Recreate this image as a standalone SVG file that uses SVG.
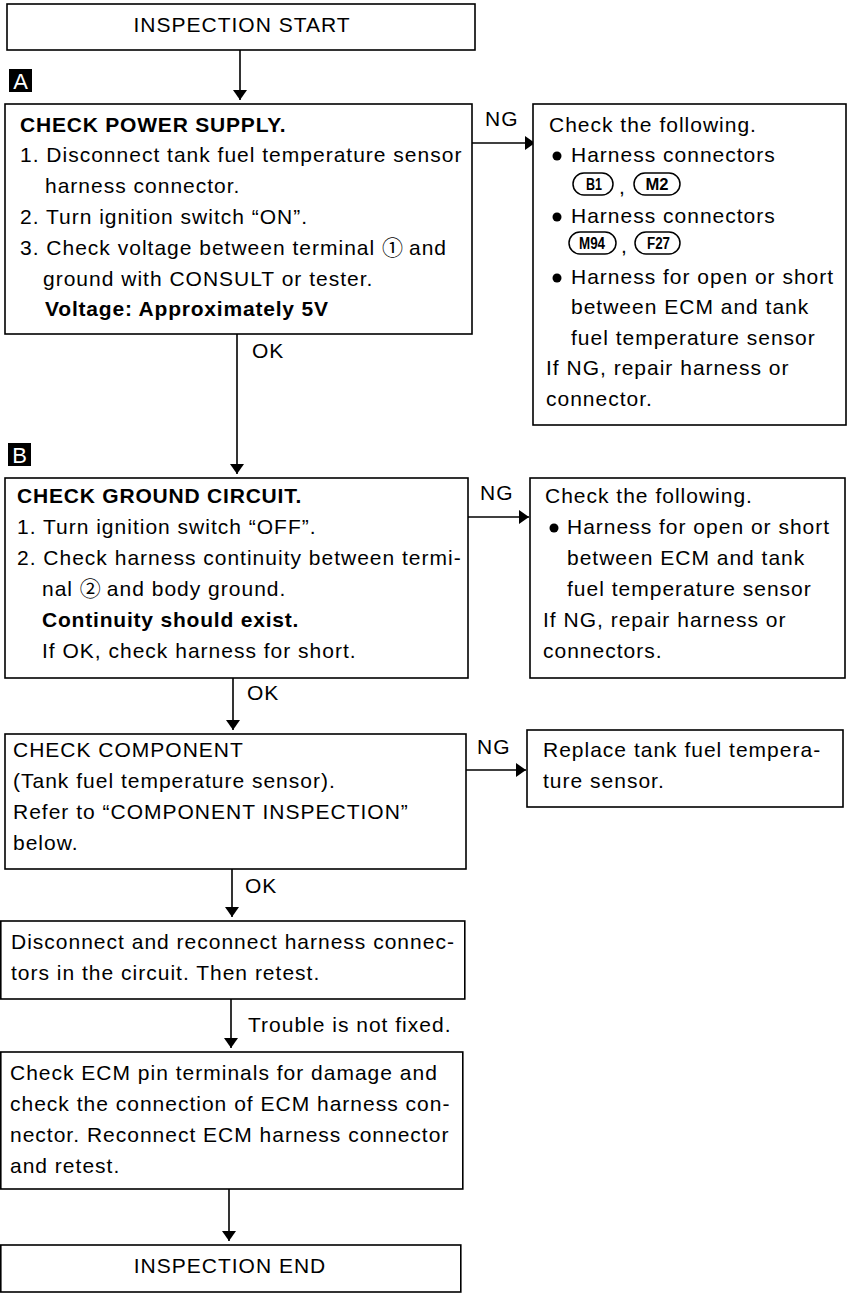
<svg xmlns="http://www.w3.org/2000/svg" width="850" height="1299" viewBox="0 0 850 1299">
<defs>
<marker id="ah" viewBox="0 0 10 14" refX="10" refY="7" markerWidth="10" markerHeight="14" markerUnits="userSpaceOnUse" orient="auto">
<path d="M0,0 L10,7 L0,14 Z" fill="#000"/>
</marker>
</defs>
<style>
.box{fill:#fff;stroke:#000;stroke-width:1.6}
.t{font-family:"Liberation Sans",Arial,sans-serif;font-size:21px;letter-spacing:1px;fill:#000}
.b{font-weight:bold;letter-spacing:0.8px}
.c{text-anchor:middle}
.ln{stroke:#000;stroke-width:1.6;fill:none}
.badge{fill:#fff;stroke:#000;stroke-width:1.5}
.bt{font-family:"Liberation Sans",Arial,sans-serif;font-size:16px;font-weight:bold;fill:#000;text-anchor:middle}
.lab{fill:#000}
.labt{font-family:"Liberation Sans",Arial,sans-serif;font-size:22px;fill:#fff;text-anchor:middle}
.circ{font-family:"Noto Sans CJK JP","DejaVu Sans",sans-serif;font-size:21px;letter-spacing:0}
</style>
<rect width="850" height="1299" fill="#fff"/>

<g id="connectors">
<line class="ln" x1="240" y1="50" x2="240" y2="100" marker-end="url(#ah)"/>
<line class="ln" x1="472" y1="143" x2="535" y2="143" marker-end="url(#ah)"/>
<text class="t" x="485" y="126">NG</text>
<line class="ln" x1="237" y1="334" x2="237" y2="474" marker-end="url(#ah)"/>
<text class="t" x="252" y="358">OK</text>
<line class="ln" x1="468" y1="517" x2="529" y2="517" marker-end="url(#ah)"/>
<text class="t" x="480" y="500">NG</text>
<line class="ln" x1="233" y1="678" x2="233" y2="730" marker-end="url(#ah)"/>
<text class="t" x="247" y="700">OK</text>
<line class="ln" x1="466" y1="770" x2="526" y2="770" marker-end="url(#ah)"/>
<text class="t" x="477" y="754">NG</text>
<line class="ln" x1="232" y1="869" x2="232" y2="917" marker-end="url(#ah)"/>
<text class="t" x="245" y="893">OK</text>
<line class="ln" x1="231" y1="999" x2="231" y2="1048" marker-end="url(#ah)"/>
<text class="t" x="248" y="1032">Trouble is not fixed.</text>
<line class="ln" x1="229" y1="1189" x2="229" y2="1241" marker-end="url(#ah)"/>
</g>

<g id="start">
<rect class="box" x="7" y="4" width="468" height="46"/>
<text class="t c" x="242" y="32">INSPECTION START</text>
</g>

<g id="labelA">
<rect class="lab" x="9" y="69" width="23" height="23"/>
<text class="labt" x="20.5" y="88.5">A</text>
</g>

<g id="checkPower">
<rect class="box" x="5" y="104" width="467" height="230"/>
<text class="t b" x="20" y="132">CHECK POWER SUPPLY.</text>
<text class="t" x="20" y="162">1. Disconnect tank fuel temperature sensor</text>
<text class="t" x="45" y="193">harness connector.</text>
<text class="t" x="20" y="224">2. Turn ignition switch “ON”.</text>
<text class="t" x="20" y="255">3. Check voltage between terminal <tspan class="circ">①</tspan><tspan dx="6">and</tspan></text>
<text class="t" x="43" y="286">ground with CONSULT or tester.</text>
<text class="t b" x="45" y="316">Voltage: Approximately 5V</text>
</g>

<g id="ngPower">
<rect class="box" x="533" y="104" width="313" height="321"/>
<text class="t" x="549" y="132">Check the following.</text>
<circle cx="557" cy="156" r="4.5"/>
<text class="t" x="571" y="162">Harness connectors</text>
<rect class="badge" x="573" y="173" width="40" height="22" rx="11"/>
<text class="bt" x="594" y="190" textLength="16" lengthAdjust="spacingAndGlyphs">B1</text>
<text class="t" x="619" y="194">,</text>
<rect class="badge" x="634" y="173" width="46" height="22" rx="11"/>
<text class="bt" x="657" y="190" textLength="23" lengthAdjust="spacingAndGlyphs">M2</text>
<circle cx="557" cy="217" r="4.5"/>
<text class="t" x="571" y="223">Harness connectors</text>
<rect class="badge" x="569" y="232" width="47" height="22" rx="11"/>
<text class="bt" x="592" y="249" textLength="26" lengthAdjust="spacingAndGlyphs">M94</text>
<text class="t" x="621" y="253">,</text>
<rect class="badge" x="635" y="232" width="45" height="22" rx="11"/>
<text class="bt" x="658.5" y="249" textLength="23" lengthAdjust="spacingAndGlyphs">F27</text>
<circle cx="557" cy="278" r="4.5"/>
<text class="t" x="571" y="284">Harness for open or short</text>
<text class="t" x="571" y="314">between ECM and tank</text>
<text class="t" x="571" y="345">fuel temperature sensor</text>
<text class="t" x="546" y="375">If NG, repair harness or</text>
<text class="t" x="546" y="406">connector.</text>
</g>

<g id="labelB">
<rect class="lab" x="8" y="443" width="23" height="23"/>
<text class="labt" x="19.5" y="462.5">B</text>
</g>

<g id="checkGround">
<rect class="box" x="5" y="478" width="463" height="200"/>
<text class="t b" x="17" y="503">CHECK GROUND CIRCUIT.</text>
<text class="t" x="17" y="534">1. Turn ignition switch “OFF”.</text>
<text class="t" x="17" y="565">2. Check harness continuity between termi-</text>
<text class="t" x="42" y="596">nal <tspan class="circ">②</tspan><tspan dx="6">and body ground.</tspan></text>
<text class="t b" x="42" y="627">Continuity should exist.</text>
<text class="t" x="42" y="658">If OK, check harness for short.</text>
</g>

<g id="ngGround">
<rect class="box" x="530" y="478" width="315" height="200"/>
<text class="t" x="545" y="503">Check the following.</text>
<circle cx="554" cy="528" r="4.5"/>
<text class="t" x="567" y="534">Harness for open or short</text>
<text class="t" x="567" y="565">between ECM and tank</text>
<text class="t" x="567" y="596">fuel temperature sensor</text>
<text class="t" x="543" y="627">If NG, repair harness or</text>
<text class="t" x="543" y="658">connectors.</text>
</g>

<g id="checkComponent">
<rect class="box" x="5" y="734" width="461" height="135"/>
<text class="t" x="13" y="757">CHECK COMPONENT</text>
<text class="t" x="13" y="788">(Tank fuel temperature sensor).</text>
<text class="t" x="13" y="819">Refer to “COMPONENT INSPECTION”</text>
<text class="t" x="13" y="850">below.</text>
</g>

<g id="ngComponent">
<rect class="box" x="527" y="730" width="316" height="77"/>
<text class="t" x="543" y="757">Replace tank fuel tempera-</text>
<text class="t" x="543" y="788">ture sensor.</text>
</g>

<g id="reconnect">
<rect class="box" x="0.8" y="921" width="464" height="78"/>
<text class="t" x="11" y="949">Disconnect and reconnect harness connec-</text>
<text class="t" x="11" y="980">tors in the circuit. Then retest.</text>
</g>

<g id="checkECM">
<rect class="box" x="0.8" y="1052" width="462" height="137"/>
<text class="t" x="10" y="1080">Check ECM pin terminals for damage and</text>
<text class="t" x="10" y="1111">check the connection of ECM harness con-</text>
<text class="t" x="10" y="1142">nector. Reconnect ECM harness connector</text>
<text class="t" x="10" y="1173">and retest.</text>
</g>

<g id="end">
<rect class="box" x="0.8" y="1245" width="460" height="47"/>
<text class="t c" x="230" y="1273">INSPECTION END</text>
</g>
</svg>
